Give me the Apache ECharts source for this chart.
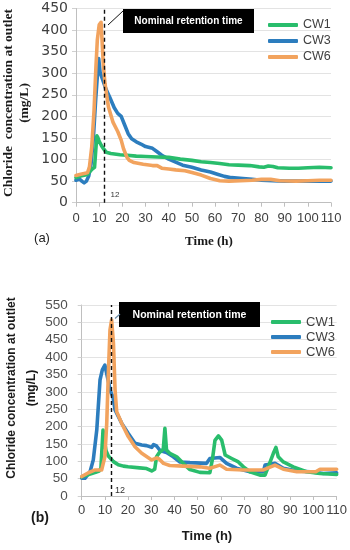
<!DOCTYPE html>
<html>
<head>
<meta charset="utf-8">
<script src="https://cdn.jsdelivr.net/npm/echarts@6/dist/echarts.min.js"></script>
<style>html,body{margin:0;padding:0;background:#fff;}#c{width:350px;height:550px;}</style>
</head>
<body>
<div id="c"></div>
<script>
// ---- data: chart (a) ----
var xTicks = [0,10,20,30,40,50,60,70,80,90,100,110];
var yTicksA = [0,50,100,150,200,250,300,350,400,450];
var yTicksB = [0,50,100,150,200,250,300,350,400,450,500,550];
var seriesNames = ['CW1','CW3','CW6'];
var retentionA = 12.2;
var retentionB = 12.7;

var cw1A = [[0,58],[2,62],[4,64],[5,66],[6,72],[7,78],[8,82],[8.5,120],[9,155],[9.5,150],[10,142],[11,132],[12,124],[13,117],[15,114],[19,111],[22,110],[26,108],[30,107],[35,106],[40,105],[45,101],[50,98],[54,95],[58,93],[62,91],[66,88],[70,87],[75,86],[79,83],[81,82],[83,85],[85,84],[87,81],[92,80],[96,80],[100,81],[105,82],[110,81]];
var cw3A = [[0,52],[1.5,55],[2.5,50],[3.5,46],[4.5,50],[5.5,62],[6.5,90],[7.5,150],[8.5,240],[9.3,300],[9.8,334],[10.4,302],[11.5,285],[13,262],[14.5,245],[16.5,220],[18,207],[19.5,200],[21,180],[22.5,160],[24,148],[26,141],[28,136],[30,130],[33,126],[35,118],[37,110],[40,101],[43,94],[46,87],[50,82],[54,76],[58,71],[61,66],[64,61],[67,58],[72,56],[76,54],[80,52],[85,51],[90,50],[100,50],[110,50]];
var cw6A = [[0,63],[2,66],[4,68],[5,70],[5.8,83],[6.8,130],[7.8,215],[8.6,315],[9.2,377],[10,412],[10.8,418],[11.2,380],[11.8,318],[12.5,276],[14,222],[16,186],[18,165],[19.5,145],[20.5,125],[22,105],[23,98],[25,93],[29,89],[33,86],[35,86],[37,80],[40,78],[43,76],[47,74],[50,70],[54,64],[58,56],[62,51],[66,50],[71,51],[76,52],[80,54],[84,54],[88,51],[95,50],[100,51],[105,52],[110,52]];

// ---- data: chart (b) ----
var cw1B = [[0,55],[2,60],[4,64],[6,68],[7.5,72],[8.3,80],[8.7,130],[9.2,190],[9.8,160],[10.5,130],[11.5,115],[12.5,108],[13.7,99],[15.8,90],[18,86],[20,84],[25,81],[28,79],[30.2,72],[31.5,77],[32.3,113],[33.5,125],[35.2,135],[35.9,195],[36.6,132],[38,123],[41,113],[43.8,94],[46.7,76],[51,68],[55.3,67],[56.5,110],[57.5,160],[59,173],[60.4,161],[61.9,118],[64.7,108],[67.6,98],[69.8,84],[72.6,70],[76.9,60],[79.1,60],[80.5,84],[82.7,123],[83.8,140],[84.8,113],[87,98],[91.3,84],[97,70],[102.8,65],[110,62]];
var cw3B = [[0,51],[1.4,51],[3.6,70],[5,104],[6.5,190],[7.9,334],[8.9,363],[10,377],[10.5,372],[11.5,330],[12.5,300],[13.5,285],[14.4,248],[17.3,209],[20.1,180],[23,152],[25.9,147],[28,145],[30.2,140],[31,148],[32.3,144],[33.8,131],[36.6,125],[39.5,113],[42.4,98],[46.7,96],[53.9,94],[55.3,108],[59.6,111],[62.5,94],[66.8,80],[72.6,70],[78.4,70],[79.1,89],[83.4,94],[87,80],[92.8,72],[98.5,70],[104.3,65],[110,67]];
var cw6B = [[0,56],[2.9,67],[5.8,75],[8.6,75],[10,113],[10.8,209],[11.5,353],[12.2,478],[12.9,507],[13.7,440],[14.4,305],[15.1,243],[17.3,209],[20.1,171],[23,142],[25.9,123],[30.2,104],[32.4,110],[33.5,106],[35.3,94],[38,88],[43.8,86],[51,84],[55.3,80],[59.6,89],[62.5,77],[69.8,75],[78.4,75],[83.4,89],[87,77],[92.8,70],[101,70],[102.8,77],[110,77]];

var colors = {CW1:'#29BD6C', CW3:'#2C7DBE', CW6:'#F2A35E'};

var chart = echarts.init(document.getElementById('c'), null, {renderer:'canvas'});

function xAxisCfg(gi, fs, margin){
  return {
    type:'value', gridIndex:gi, min:xTicks[0], max:xTicks[xTicks.length-1], interval:10,
    axisLine:{show:true, lineStyle:{color:'#BFBFBF', width:1}},
    axisTick:{show:true, length:4, lineStyle:{color:'#BFBFBF'}},
    axisLabel:{fontSize:fs, fontFamily:'Liberation Sans', color:'#404040', margin:margin},
    splitLine:{show:false}
  };
}
function yAxisCfg(gi, ticks, font, fs, margin, color){
  return {
    type:'value', gridIndex:gi, min:ticks[0], max:ticks[ticks.length-1], interval:50,
    axisLine:{show:true, lineStyle:{color:'#BFBFBF', width:1}},
    axisTick:{show:true, length:4, lineStyle:{color:'#D0D0D0'}},
    axisLabel:{fontSize:fs, fontFamily:font, color:color, margin:margin},
    splitLine:{show:true, lineStyle:{color:'#E3E3E3', width:1}}
  };
}
function lineSeries(name, data, xi, z, retention){
  var s = {
    name:name, type:'line', xAxisIndex:xi, yAxisIndex:xi, data:data,
    showSymbol:false, symbol:'none', z:z,
    lineStyle:{color:colors[name], width:3.6, cap:'round', join:'round'},
    itemStyle:{color:colors[name]},
    animation:false
  };
  if (retention !== undefined) {
    s.markLine = {
      silent:true, symbol:['none','none'], animation:false,
      label:{show:false},
      lineStyle:{color:'#111', type:[4,3], width:1.4},
      data:[{xAxis:retention}]
    };
  }
  return s;
}

var option = {
  animation:false,
  backgroundColor:'#fff',
  grid:[
    {left:76, top:8.5, width:255, height:194.2, containLabel:false},
    {left:81.7, top:305, width:255, height:191, containLabel:false}
  ],
  xAxis:[xAxisCfg(0, 13, 9), xAxisCfg(1, 13, 8)],
  yAxis:[
    yAxisCfg(0, yTicksA, 'DejaVu Sans', 14, 8, '#404040'),
    yAxisCfg(1, yTicksB, 'Liberation Sans', 13.5, 14, '#505050')
  ],
  legend:[
    {data:seriesNames, orient:'vertical', left:263, top:12, itemWidth:30, itemHeight:4, itemGap:0, textGap:3,
     icon:'roundRect', textStyle:{fontSize:12.5, lineHeight:16, fontFamily:'Liberation Sans', color:'#404040'}, selectedMode:false},
    {data:seriesNames, orient:'vertical', left:266, top:309.5, itemWidth:30, itemHeight:4, itemGap:0, textGap:3,
     icon:'roundRect', textStyle:{fontSize:13, lineHeight:15, fontFamily:'Liberation Sans', color:'#404040'}, selectedMode:false}
  ],
  series:[
    lineSeries('CW3', cw3A, 0, 2, retentionA),
    lineSeries('CW1', cw1A, 0, 3),
    lineSeries('CW6', cw6A, 0, 4),
    lineSeries('CW3', cw3B, 1, 2, retentionB),
    lineSeries('CW1', cw1B, 1, 3),
    lineSeries('CW6', cw6B, 1, 4)
  ],
  graphic:[
    // chart (a) annotations
    {type:'rect', z:100, shape:{x:123, y:9, width:131, height:24}, style:{fill:'#000'}},
    {type:'text', z:101, x:188.5, y:21, style:{text:'Nominal retention time', fill:'#fff', font:'bold 10px "Liberation Sans"', align:'center', verticalAlign:'middle'}},
    {type:'line', z:100, shape:{x1:123, y1:11, x2:108, y2:25}, style:{stroke:'#111', lineWidth:1}},
    {type:'text', z:101, x:115, y:195, style:{text:'12', fill:'#333', font:'8px "Liberation Sans"', align:'center', verticalAlign:'middle'}},
    {type:'text', z:101, x:17, y:103, rotation:Math.PI/2, style:{text:'Chloride  concentration at outlet\n(mg/L)', fill:'#1a1a1a', font:'bold 13.5px "Liberation Serif"', align:'center', verticalAlign:'middle', lineHeight:16}},
    {type:'text', z:101, x:209, y:242, style:{text:'Time (h)', fill:'#1a1a1a', font:'bold 13px "Liberation Serif"', align:'center', verticalAlign:'middle'}},
    {type:'text', z:101, x:42, y:238, style:{text:'(a)', fill:'#222', font:'13px "Liberation Sans"', align:'center', verticalAlign:'middle'}},
    // chart (b) annotations
    {type:'rect', z:100, shape:{x:119, y:302, width:141, height:25}, style:{fill:'#000'}},
    {type:'text', z:101, x:189.5, y:315, style:{text:'Nominal retention time', fill:'#fff', font:'bold 10.5px "Liberation Sans"', align:'center', verticalAlign:'middle'}},
    {type:'line', z:100, shape:{x1:120, y1:314, x2:115, y2:318.5}, style:{stroke:'#6A8CA8', lineWidth:1.2}},
    {type:'text', z:101, x:120, y:491, style:{text:'12', fill:'#333', font:'9px "Liberation Sans"', align:'center', verticalAlign:'middle'}},
    {type:'text', z:101, x:22, y:388, rotation:Math.PI/2, style:{text:'Chloride concentration at outlet\n(mg/L)', fill:'#1a1a1a', font:'bold 12px "Liberation Sans"', align:'center', verticalAlign:'middle', lineHeight:20}},
    {type:'text', z:101, x:207, y:536, style:{text:'Time (h)', fill:'#1a1a1a', font:'bold 13px "Liberation Sans"', align:'center', verticalAlign:'middle'}},
    {type:'text', z:101, x:40, y:518, style:{text:'(b)', fill:'#1a1a1a', font:'bold 14px "Liberation Sans"', align:'center', verticalAlign:'middle'}}
  ]
};
chart.setOption(option);
</script>
</body>
</html>
